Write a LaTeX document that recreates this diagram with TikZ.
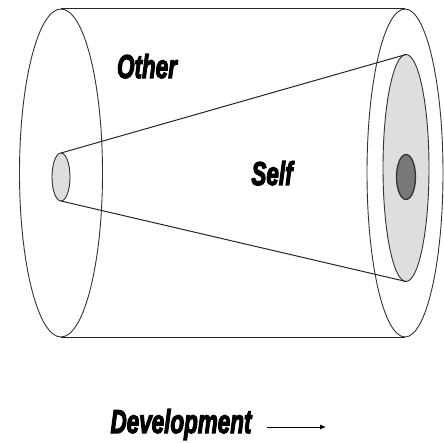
\documentclass[tikz,border=0pt]{standalone}
\usepackage{fontspec}
\setmainfont{Liberation Sans}
\newfontfamily\lblfont{Liberation Sans Bold Italic}[FakeBold=4]
\usetikzlibrary{arrows.meta}
\begin{document}
\begin{tikzpicture}[x=1pt,y=1pt,
  ring/.style={draw=black!80,line width=0.9pt},
  lbl/.style={font=\lblfont\fontsize{33}{33}\selectfont,xscale=0.68,anchor=base,inner sep=0pt},
  edge/.style={draw=black!85,line width=1pt}]
\useasboundingbox (0,0) rectangle (444,442);
\fill[white] (0,0) rectangle (444,442);
% centres (y measured upward: 442 - pixel row)
\coordinate (L) at (61,269);
\coordinate (R) at (405,269);
\coordinate (I) at (406,274);
\coordinate (C) at (406,265);
\coordinate (S) at (61,265);
\coordinate (Ltop) at (61,433);
\coordinate (Lbot) at (61,105);
\coordinate (Rtop) at (405,433);
\coordinate (Rbot) at (405,105);
\coordinate (Stop) at (61,289);
\coordinate (Sbot) at (61,241);
\coordinate (Itop) at (406,387.5);
\coordinate (Ibot) at (406,160.5);
% outer cylinder ends
\draw[ring] (L) ellipse [x radius=41.5, y radius=164];
\draw[ring] (R) ellipse [x radius=38, y radius=164];
\draw[edge] (Ltop) -- (Rtop);
\draw[edge] (Lbot) -- (Rbot);
% inner cone ends
\draw[ring,fill=black!13] (I) ellipse [x radius=23, y radius=113.5];
\draw[ring,line width=1.3pt,fill=black!53] (C) ellipse [x radius=9.5, y radius=22.5];
\draw[ring,fill=black!13] (S) ellipse [x radius=9, y radius=24];
\draw[edge] (Stop) -- (Itop);
\draw[edge] (Sbot) -- (Ibot);
% labels
\node[lbl] (other) at (147,364) {Other};
\node[lbl] (self) at (272,257) {Self};
\node[lbl] (dev) at (181,9) {Development};
\coordinate (a1) at (267,15);
\coordinate (a2) at (326,15);
\draw[line width=0.9pt,-{Latex[length=6pt,width=5pt]}] (a1) -- (a2);
\end{tikzpicture}
\end{document}
